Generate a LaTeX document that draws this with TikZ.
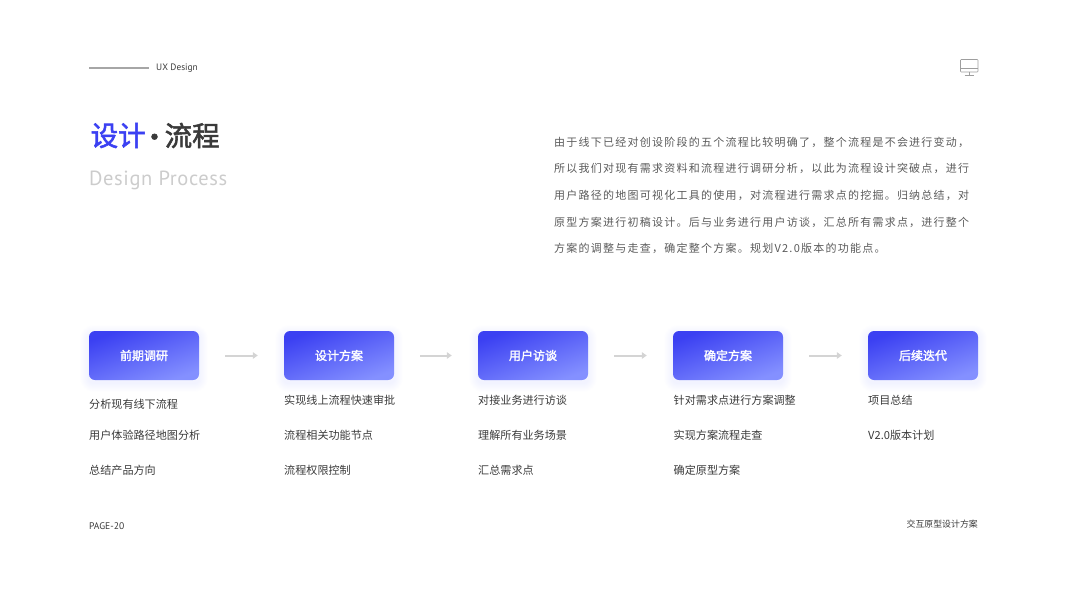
\documentclass[tikz,border=0pt]{standalone}
\usepackage{fontspec}
\setmainfont{Noto Sans CJK SC}
\newfontfamily\cjkp[LetterSpace=11.3]{Noto Sans CJK SC}
\newfontfamily\cjkn{Noto Sans CJK SC}
\newfontfamily\cjkm[FakeBold=2]{Noto Sans CJK SC}
\newfontfamily\din{PT Sans}
\newfontfamily\dins[LetterSpace=3]{PT Sans}
\definecolor{ttxt}{HTML}{3A3A3A}
\definecolor{ptxt}{HTML}{5A5A5A}
\definecolor{blue1}{HTML}{3B40F2}
\definecolor{blue2}{HTML}{8490FF}
\definecolor{arrowc}{HTML}{D4D4D4}
\usetikzlibrary{arrows.meta}
\tikzset{
  stagebox/.style={minimum width=110pt,minimum height=49pt,inner sep=0pt,rounded corners=6pt,
    top color=blue1,bottom color=blue2,shading angle=20,text=white,font=\cjkm\fontsize{12}{12}\selectfont},
  item/.style={anchor=west,inner sep=0pt,text=ttxt,font=\cjkn\fontsize{11.1}{12}\selectfont},
  para/.style={anchor=west,inner sep=0pt,text=ptxt,font=\cjkp\fontsize{11}{12}\selectfont},
  titletext/.style={inner sep=0pt,font=\cjkm\fontsize{27.5}{28}\selectfont},
  flowarrow/.style={draw=arrowc,line width=2pt,shorten <=26pt,shorten >=26pt,-{Stealth[length=5pt,width=6.5pt,inset=0pt]}},
  softshadow/.style={fill=blue2,opacity=0.012},
  iconline/.style={draw=black!38,line width=0.6pt},
}
\newcommand{\shadowfor}[1]{%
  \foreach \g in {1,2,...,9}{%
    \fill[softshadow,rounded corners=\g pt+5pt] ([xshift=-\g pt,yshift=-3pt+\g pt]#1.north west) rectangle ([xshift=\g pt,yshift=-3pt-\g pt]#1.south east);}%
}
\begin{document}
\begin{tikzpicture}[x=1pt,y=-1pt]
\useasboundingbox (0,0) rectangle (1067,600);
% header
\coordinate (hl1) at (89,68);
\coordinate (hl2) at (149,68);
\draw[draw=black!35,line width=1.2pt] (hl1) -- (hl2);
\node[anchor=west,inner sep=0pt,text=ttxt,font=\din\fontsize{9.3}{10}\selectfont] (ux) at (156,68.5) {UX Design};
% icon
\draw[iconline,rounded corners=0.8pt] (960.5,59.5) rectangle (978,72);
\draw[iconline] (960.5,68.5) -- (978,68.5);
\draw[iconline] (969.2,72) -- (969.2,75);
\draw[iconline] (964.5,75) -- (974,75);
% title
\node[anchor=west,titletext,text=blue1] (t1) at (90.5,135.5) {设计};
\node[anchor=center,titletext,text=ttxt] (t2) at (154.5,140.5) {·};
\node[anchor=west,titletext,text=ttxt] (t3) at (164.5,135.5) {流程};
\node[anchor=west,inner sep=0pt,text=black!20,font=\dins\fontsize{20.5}{22}\selectfont] (t4) at (89,180) {Design Process};
% paragraph
\node[para] (p1) at (554,142) {由于线下已经对创设阶段的五个流程比较明确了，整个流程是不会进行变动，};
\node[para] (p2) at (554,168.5) {所以我们对现有需求资料和流程进行调研分析，以此为流程设计突破点，进行};
\node[para] (p3) at (554,195) {用户路径的地图可视化工具的使用，对流程进行需求点的挖掘。归纳总结，对};
\node[para] (p4) at (554,222) {原型方案进行初稿设计。后与业务进行用户访谈，汇总所有需求点，进行整个};
\node[para] (p5) at (554,248.5) {方案的调整与走查，确定整个方案。规划V2.0版本的功能点。};
% boxes: geometry first for shadows
\foreach \n/\x in {s1/144,s2/339,s3/533,s4/728,s5/923}{
  \path node[minimum width=110pt,minimum height=49pt,inner sep=0pt] (\n) at (\x,355.5) {};
  \shadowfor{\n}
}
\node[stagebox] (b1) at (s1) {前期调研};
\node[stagebox] (b2) at (s2) {设计方案};
\node[stagebox] (b3) at (s3) {用户访谈};
\node[stagebox] (b4) at (s4) {确定方案};
\node[stagebox] (b5) at (s5) {后续迭代};
\draw[flowarrow] (b1) -- (b2);
\draw[flowarrow] (b2) -- (b3);
\draw[flowarrow] (b3) -- (b4);
\draw[flowarrow] (b4) -- (b5);
% lists
\node[item] (a1) at (89,404.5) {分析现有线下流程};
\node[item] (a2) at (89,435.5) {用户体验路径地图分析};
\node[item] (a3) at (89,470.5) {总结产品方向};
\node[item] (c1) at (284,400.5) {实现线上流程快速审批};
\node[item] (c2) at (284,435.5) {流程相关功能节点};
\node[item] (c3) at (284,470.5) {流程权限控制};
\node[item] (d1) at (478,400.5) {对接业务进行访谈};
\node[item] (d2) at (478,435.5) {理解所有业务场景};
\node[item] (d3) at (478,470.5) {汇总需求点};
\node[item] (e1) at (673.5,400.5) {针对需求点进行方案调整};
\node[item] (e2) at (673.5,435.5) {实现方案流程走查};
\node[item] (e3) at (673.5,470.5) {确定原型方案};
\node[item] (f1) at (868,400.5) {项目总结};
\node[item] (f2) at (868,435.5) {V2.0版本计划};
% footer
\node[anchor=west,inner sep=0pt,text=ttxt,font=\din\fontsize{9.6}{10}\selectfont] (pg) at (89,526) {PAGE-20};
\node[anchor=east,inner sep=0pt,text=ttxt,font=\cjkn\fontsize{8.9}{10}\selectfont] (ft) at (978,524) {交互原型设计方案};
\end{tikzpicture}
\end{document}
